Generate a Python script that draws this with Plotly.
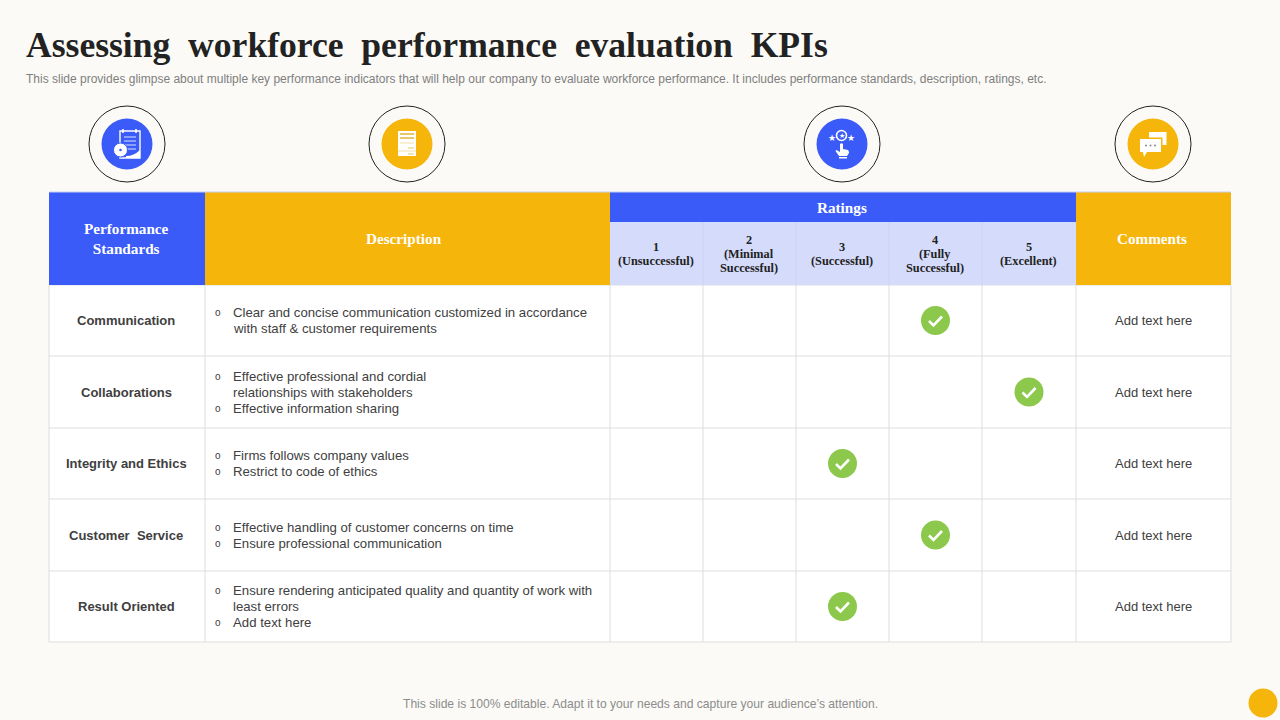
import plotly.graph_objects as go

# table content
standards = ["Communication", "Collaborations", "Integrity and Ethics", "Customer  Service", "Result Oriented"]
descriptions = [
    [("o", "Clear and concise communication customized in accordance"), ("", "with staff & customer requirements")],
    [("o", "Effective professional and cordial"), ("", "relationships with stakeholders"), ("o", "Effective information sharing")],
    [("o", "Firms follows company values"), ("o", "Restrict to code of ethics")],
    [("o", "Effective handling of customer concerns on time"), ("o", "Ensure professional communication")],
    [("o", "Ensure rendering anticipated quality and quantity of work with"), ("", "least errors"), ("o", "Add text here")],
]
ratings = [4, 5, 3, 4, 3]
comments = ["Add text here"] * 5
rating_labels = [["1", "(Unsuccessful)"], ["2", "(Minimal", "Successful)"], ["3", "(Successful)"],
                 ["4", "(Fully", "Successful)"], ["5", "(Excellent)"]]

title = "Assessing\u00a0\u00a0workforce\u00a0\u00a0performance\u00a0\u00a0evaluation\u00a0\u00a0KPIs"
subtitle = ("This slide provides glimpse about multiple key performance indicators that will help our company "
            "to evaluate workforce performance. It includes performance standards, description, ratings, etc.")
footer = "This slide is 100% editable. Adapt it to your needs and capture your audience\u2019s attention."

# grid edges
col_edges = [49, 205, 610, 703, 796, 889, 982, 1076, 1231]
row_edges = [285, 356, 428, 499, 571, 642]
head_top = 192
band_bottom = 222

BLUE = "#3A5BF7"
YELLOW = "#F5B50A"
LIGHT = "#D5DCFB"
GRID = "#DDDDDD"
BG = "#FBFAF6"
GREEN = "#8CC84B"
TEXT = "#404040"
SERIF = "Liberation Serif"

shapes = []
annots = []


def rect(x0, y0, x1, y1, fill, line=None, width=1):
    shapes.append(dict(type="rect", x0=x0, y0=y0, x1=x1, y1=y1, fillcolor=fill, layer="below",
                       line=dict(color=line or fill, width=width if line else 0)))


def circle(cx, cy, r, fill, line=None, width=1):
    shapes.append(dict(type="circle", x0=cx - r, y0=cy - r, x1=cx + r, y1=cy + r, fillcolor=fill, layer="below",
                       line=dict(color=line or fill, width=width if line else 0)))


def seg(x0, y0, x1, y1, color, width=1):
    shapes.append(dict(type="line", x0=x0, y0=y0, x1=x1, y1=y1, layer="below", line=dict(color=color, width=width)))


def path(d, fill, line=None, width=1, layer="below"):
    shapes.append(dict(type="path", path=d, fillcolor=fill, layer=layer,
                       line=dict(color=line or fill, width=width if line else 0)))


def label(x, y, s, size=12, color=TEXT, fam="Liberation Sans", anchor="center", bold=False):
    if bold:
        s = "<b>" + s + "</b>"
    annots.append(dict(x=x, y=y, text=s, showarrow=False, xanchor=anchor, yanchor="middle", align="center",
                       font=dict(family=fam, size=size, color=color)))


# body
rect(col_edges[0], row_edges[0], col_edges[-1], row_edges[-1], "#FFFFFF")
for y in row_edges:
    seg(col_edges[0], y, col_edges[-1], y, GRID, 1)
for x in col_edges:
    seg(x, row_edges[0], x, row_edges[-1], GRID, 1)

# header
rect(49, head_top, 205, 285, BLUE)
rect(205, head_top, 610, 285, YELLOW)
rect(610, head_top, 1076, band_bottom, BLUE)
rect(610, band_bottom, 1076, 285, LIGHT)
rect(1076, head_top, 1231, 285, YELLOW)
for x in col_edges[3:7]:
    seg(x, band_bottom, x, 285, "#C9D0F0", 0.8)
seg(49, 192, 1231, 192, "#C8D0F5", 1)

label(126, 238, "Performance<br>Standards", 15.2, "#FFFFFF", SERIF, bold=True)
label(403.5, 238, "Description", 15.2, "#FFFFFF", SERIF, bold=True)
label(841.5, 207, "Ratings", 15.2, "#FFFFFF", SERIF, bold=True)
label(1152, 238, "Comments", 15.2, "#FFFFFF", SERIF, bold=True)
for i, lines in enumerate(rating_labels):
    cx = (col_edges[i + 2] + col_edges[i + 3]) / 2 - 0.5
    for j, s in enumerate(lines):
        label(cx, 254 + (j - (len(lines) - 1) / 2) * 14, s, 12.3, "#222222", SERIF, bold=True)

# rows
for i in range(5):
    mid = (row_edges[i] + row_edges[i + 1]) / 2
    label(126, mid, standards[i], 13, TEXT, bold=True)
    label(1153.5, mid, comments[i], 13, TEXT)
    n = len(descriptions[i])
    for j, (bullet, line) in enumerate(descriptions[i]):
        y = mid + (j - (n - 1) / 2) * 16
        if bullet:
            label(218, y, bullet, 10, TEXT)
        label(231, y, line, 13.2, TEXT, anchor="left")

# title block
label(24, 45, title, 35.6, "#222222", SERIF, anchor="left", bold=True)
label(24, 79, subtitle, 12, "#7F7F7F", anchor="left")
label(640, 703.5, footer, 12.1, "#8C8C8C")
circle(1263, 703, 14.5, YELLOW)

# header icons
for cx, col in zip([127, 407, 842, 1153], [BLUE, YELLOW, BLUE, YELLOW]):
    circle(cx, 144, 38, "rgba(0,0,0,0)", "#222222", 1)
    circle(cx, 144, 25.5, col)

# clipboard + stopwatch
rect(120, 131, 140, 158, "rgba(0,0,0,0)", "#FFFFFF", 1.4)
for y in [137, 141, 145, 149]:
    seg(124, y, 136, y, "#DDE3FF", 1)
seg(123, 129, 123, 133, "#FFFFFF", 1.6)
seg(136, 129, 136, 133, "#FFFFFF", 1.6)
path("M 126 158 L 140 158 L 140 150 Q 134 156 126 156 Z", "#FFFFFF")
circle(120.5, 150, 7, "#FFFFFF", BLUE, 1)
circle(120.5, 150, 1.3, BLUE)

# document
rect(398, 131, 416, 156, "#FFFFFF")
rect(400, 133, 414, 135, "#E7C766")
rect(400, 137, 414, 139, "#E7C766")
seg(400, 143, 414, 143, "#F1DFA8", 1)
seg(408, 148, 414, 148, "#E7C766", 1)
seg(398, 151, 416, 151, "#F1DFA8", 1)
seg(408, 154, 414, 154, "#E7C766", 1)

# stars + pointing hand
circle(841.5, 135.5, 5, "rgba(0,0,0,0)", "#FFFFFF", 1.6)
label(841.5, 135.5, "\u2605", 7, "#FFFFFF", "DejaVu Sans")
label(832, 138, "\u2605", 9, "#FFFFFF", "DejaVu Sans")
label(851, 138, "\u2605", 9, "#FFFFFF", "DejaVu Sans")
path("M 840 144 Q 841.5 142.5 843 144 L 843 149 L 848 150 Q 849 151 849 153 L 847 156 L 839 156 "
     "L 835.5 151 L 836.5 150 L 840 152 Z", "#FFFFFF")
rect(839, 157, 847, 158.5, "#FFFFFF")

# speech bubbles
rect(1149, 132, 1166.5, 145, "#FFFFFF")
rect(1147.5, 137.5, 1162.5, 153.5, YELLOW)
path("M 1140 139 L 1161 139 L 1161 152 L 1147 152 L 1144 157 L 1143 152 L 1140 152 Z", "#FFFFFF")
for x in [1146, 1150.5, 1155]:
    circle(x, 145.5, 1, "#888888")

# green check per row, at the column of its rating
check_x = [(col_edges[r + 1] + col_edges[r + 2]) / 2 for r in ratings]
check_y = [(row_edges[i] + row_edges[i + 1]) / 2 for i in range(5)]
for x, y in zip(check_x, check_y):
    path(f"M {x - 6.5} {y + 0.5} L {x - 2} {y + 5} L {x + 6.5} {y - 4}", "rgba(0,0,0,0)", "#FFFFFF", 2.6, "above")

trace = go.Scatter(x=check_x, y=check_y, mode="markers", showlegend=False, hoverinfo="skip",
                   marker=dict(size=29, color=GREEN, line=dict(width=0)))

fig = go.Figure(data=[trace])
fig.update_layout(
    width=1280, height=720, margin=dict(l=0, r=0, t=0, b=0),
    paper_bgcolor=BG, plot_bgcolor=BG, shapes=shapes, annotations=annots,
    xaxis=dict(range=[0, 1280], visible=False, fixedrange=True),
    yaxis=dict(range=[720, 0], visible=False, fixedrange=True),
)
fig.write_html("out.html", config=dict(displayModeBar=False),
               post_script="document.body.style.margin='0';document.body.style.background='#FBFAF6';document.body.style.overflow='hidden';")
